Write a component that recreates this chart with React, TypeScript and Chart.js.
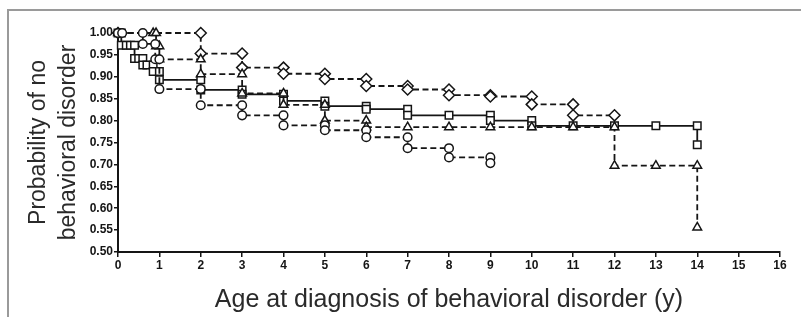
import React, { useEffect, useRef } from "react";
import { Chart, registerables } from "chart.js";

Chart.register(...registerables);

// Kaplan–Meier style curves: time (years) and survival after that time
const circleTimes = [0, 0.1, 0.6, 0.9, 1, 2, 3, 4, 5, 6, 7, 8, 9];
const circleValues = [1.0, 1.0, 0.975, 0.94, 0.872, 0.835, 0.812, 0.789, 0.778, 0.762, 0.737, 0.716, 0.703];

const squareTimes = [0, 0.08, 0.2, 0.3, 0.4, 0.5, 0.6, 0.7, 0.85, 1, 2, 3, 4, 5, 6, 7, 8, 9, 10, 11, 12, 13, 14];
const squareValues = [1.0, 0.972, 0.972, 0.972, 0.942, 0.942, 0.927, 0.927, 0.912, 0.893, 0.87, 0.86, 0.845, 0.833, 0.826, 0.812, 0.812, 0.8, 0.788, 0.788, 0.788, 0.788, 0.745];

const triangleTimes = [0, 0.85, 0.92, 1, 2, 3, 4, 5, 6, 7, 8, 9, 10, 11, 12, 13, 14];
const triangleValues = [1.0, 1.0, 0.97, 0.94, 0.906, 0.862, 0.836, 0.8, 0.785, 0.785, 0.785, 0.785, 0.785, 0.785, 0.697, 0.697, 0.556];

const diamondTimes = [0, 2, 3, 4, 5, 6, 7, 8, 9, 10, 11, 12];
const diamondValues = [1.0, 0.953, 0.921, 0.907, 0.895, 0.879, 0.871, 0.858, 0.855, 0.837, 0.812, 0.812];

const xMin = 0;
const xMax = 16;
const yMin = 0.5;
const yMax = 1.0;

const yTitle = ["Probability of no", "behavioral disorder"];
const xTitle = "Age at diagnosis of behavioral disorder (y)";

function km(times: number[], values: number[]) {
  const pts: { x: number; y: number }[] = [];
  let prev = values[0];
  for (let i = 0; i < times.length; i++) {
    if (i > 0 && values[i] !== prev) pts.push({ x: times[i], y: prev });
    pts.push({ x: times[i], y: values[i] });
    prev = values[i];
  }
  return pts;
}

const INK = "#151515";

function ds(label: string, data: any[], style: string, radius: number, dashed: boolean) {
  return {
    label,
    data,
    clip: 12,
    borderColor: INK,
    borderWidth: 1.8,
    borderDash: dashed ? [6, 3.5] : [],
    pointStyle: style,
    pointRadius: radius,
    pointBorderWidth: 1.5,
    pointBorderColor: INK,
    pointBackgroundColor: "#ffffff",
    fill: false,
    tension: 0,
  };
}

export default function App() {
  const ref = useRef<HTMLCanvasElement | null>(null);

  useEffect(() => {
    if (!ref.current) return;
    const tickFont = { family: "'Liberation Sans Narrow', 'Liberation Sans', Arial, sans-serif", size: 12, weight: "bold" as const };
    const yTitleFont = { family: "'Liberation Sans', Arial, sans-serif", size: 23, lineHeight: 1.3 };
    const xTitleFont = { family: "'Liberation Sans', Arial, sans-serif", size: 25, lineHeight: 1.2 };
    const chart = new Chart(ref.current, {
      type: "line",
      data: {
        datasets: [
          ds("circle", km(circleTimes, circleValues), "circle", 4.3, true),
          ds("triangle", km(triangleTimes, triangleValues), "triangle", 5, true),
          ds("diamond", km(diamondTimes, diamondValues), "rectRot", 5.5, true),
          ds("square", km(squareTimes, squareValues), "rect", 5.3, false),
        ] as any,
      },
      options: {
        animation: false,
        responsive: false,
        events: [],
        layout: { padding: { left: 20, right: 21, top: 33, bottom: 0 } },
        plugins: { legend: { display: false }, tooltip: { enabled: false } },
        scales: {
          x: {
            type: "linear",
            min: xMin,
            max: xMax,
            afterFit: (s: any) => {
              s.height = 65;
            },
            ticks: { stepSize: 1, color: INK, font: tickFont, padding: 1, maxRotation: 0, autoSkip: false },
            grid: { drawOnChartArea: false, tickLength: 5, color: INK, lineWidth: 1.5 },
            border: { color: INK, width: 2 },
            title: { display: true, text: xTitle, color: "#2a2a2a", font: xTitleFont, padding: { top: 0, bottom: 2 } },
          },
          y: {
            type: "linear",
            min: yMin,
            max: yMax,
            afterFit: (s: any) => {
              s.width = 98;
            },
            ticks: {
              stepSize: 0.05,
              color: INK,
              font: tickFont,
              padding: 1,
              autoSkip: false,
              callback: (v: any) => Number(v).toFixed(2),
            },
            grid: { drawOnChartArea: false, tickLength: 4, color: INK, lineWidth: 1.5 },
            border: { color: INK, width: 2 },
            title: { display: true, text: yTitle, color: "#2a2a2a", font: yTitleFont, padding: { top: 4, bottom: 0 } },
          },
        },
      },
    });
    return () => chart.destroy();
  }, []);

  return (
    <div style={{ position: "fixed", left: 0, top: 0, width: 801, height: 317, overflow: "hidden", background: "#fff" }}>
      <div
        style={{
          position: "absolute",
          left: 7,
          top: 9,
          width: 900,
          height: 400,
          border: "2px solid #9a9a9a",
          boxSizing: "border-box",
        }}
      />
      <canvas ref={ref} width={801} height={317} style={{ position: "absolute", left: 0, top: 0, width: 801, height: 317 }} />
    </div>
  );
}
